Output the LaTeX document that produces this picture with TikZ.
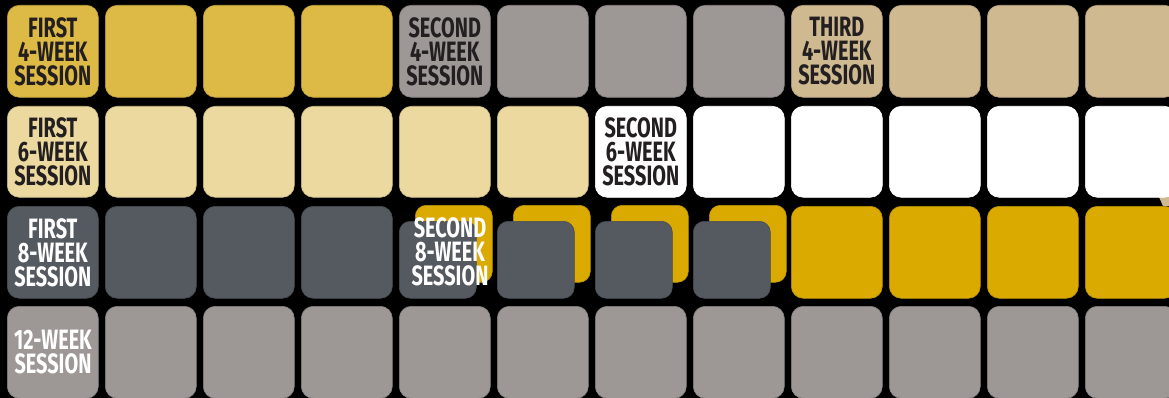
\documentclass[tikz,border=0pt]{standalone}
\usepackage{fontspec}
\newfontfamily\labfont[FakeStretch=0.71]{Fira Sans}
\definecolor{field}{HTML}{DDB945}
\definecolor{railway}{HTML}{9D9795}
\definecolor{oldgold}{HTML}{CFB991}
\definecolor{dust}{HTML}{EBD99F}
\definecolor{steel}{HTML}{555960}
\definecolor{rush}{HTML}{DAAA00}
\definecolor{ink}{HTML}{231F20}
\begin{document}
\begin{tikzpicture}[x=1pt,y=-1pt,
  cell/.style={rounded corners=12pt, draw=#1!85!black, fill=#1, line width=0.6pt,
    anchor=north west, inner sep=0pt, minimum width=91pt, minimum height=92pt},
  small/.style={rounded corners=11pt, draw=#1!85!black, fill=#1, line width=0.6pt,
    anchor=north west, inner sep=0pt, minimum width=77pt, minimum height=77pt},
  lbl/.style={text=#1, align=center, inner sep=0pt,
    font={\labfont\bfseries\fontsize{28}{24}\selectfont}},
  lbl/.default=ink]
\clip (0,0) rectangle (1169,398);
\fill[black] (0,0) rectangle (1169,398);
\fill[oldgold] (1159,197) -- (1169,196) -- (1169,206) -- (1163,206) -- cycle;
% row 1
\foreach \c in {0,...,3} \node[cell=field] (a\c) at ({7+98*\c},5) {};
\foreach \c in {4,...,7} \node[cell=railway] (a\c) at ({7+98*\c},5) {};
\foreach \c in {8,...,11} \node[cell=oldgold] (a\c) at ({7+98*\c},5) {};
% row 2
\foreach \c in {0,...,5} \node[cell=dust, minimum height=91pt] (b\c) at ({7+98*\c},106) {};
\foreach \c in {6,...,11} \node[cell=white, draw=white, minimum height=91pt] (b\c) at ({7+98*\c},106) {};
% row 3
\foreach \c in {0,...,3} \node[cell=steel] (c\c) at ({7+98*\c},206) {};
\foreach \c in {4,...,7} {
  \node[small=rush] (g\c) at ({23+98*\c},205) {};
  \node[small=steel] (c\c) at ({7+98*\c},221) {};
}
\foreach \c in {8,...,11} \node[cell=rush] (c\c) at ({7+98*\c},206) {};
% row 4
\foreach \c in {0,...,11} \node[cell=railway] (d\c) at ({7+98*\c},306) {};
% labels
\node[lbl] (t1) at (a0.center) {FIRST\\4-WEEK\\SESSION};
\node[lbl] (t2) at (a4.center) {SECOND\\4-WEEK\\SESSION};
\node[lbl] (t3) at (a8.center) {THIRD\\4-WEEK\\SESSION};
\node[lbl] (t4) at (b0.center) {FIRST\\6-WEEK\\SESSION};
\node[lbl] (t5) at (b6.center) {SECOND\\6-WEEK\\SESSION};
\node[lbl=white] (t6) at (c0.center) {FIRST\\8-WEEK\\SESSION};
\node[lbl=white] (t7) at (450,252) {SECOND\\8-WEEK\\SESSION};
\node[lbl=white] (t8) at (53,352) {12-WEEK\\SESSION};
\end{tikzpicture}
\end{document}
